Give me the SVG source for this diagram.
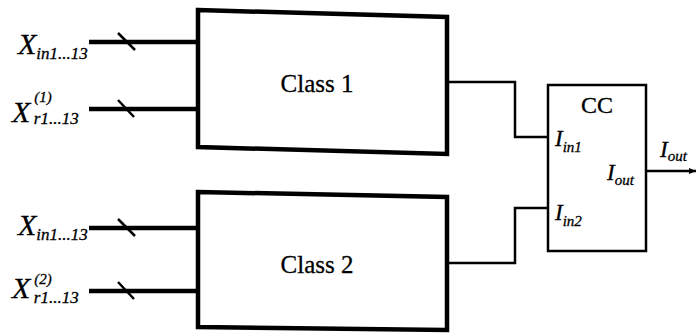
<svg xmlns="http://www.w3.org/2000/svg" width="697" height="336" viewBox="0 0 697 336">
<style>
.box{fill:#fff;stroke:#000;stroke-width:4.5;stroke-linejoin:miter}
.cc{fill:#fff;stroke:#000;stroke-width:2.5}
.in{stroke:#000;stroke-width:4.5;fill:none}
.tick{stroke:#000;stroke-width:2.5}
.wire{stroke:#000;stroke-width:2.5;fill:none}
.t{font-family:"Liberation Serif","Times New Roman",serif;fill:#000;stroke:#000;stroke-width:0.3}
.it{font-family:"Liberation Serif","Times New Roman",serif;font-style:italic;fill:#000;stroke:#000;stroke-width:0.3}
</style>
<defs>
<marker id="arr" markerWidth="8" markerHeight="8" refX="7" refY="4" orient="auto" markerUnits="userSpaceOnUse">
<path d="M0,1 L7,4 L0,7 Z" fill="#000"/>
</marker>
</defs>
<rect width="697" height="336" fill="#fff"/>
<g id="connectors">
<line class="in" x1="89" y1="42" x2="198" y2="42"/>
<line class="tick" x1="118" y1="33" x2="135" y2="50"/>
<line class="in" x1="89" y1="109" x2="198" y2="109"/>
<line class="tick" x1="118" y1="100" x2="134" y2="117"/>
<line class="in" x1="89" y1="228" x2="198" y2="228"/>
<line class="tick" x1="118" y1="219" x2="135" y2="236"/>
<line class="in" x1="89" y1="291" x2="198" y2="291"/>
<line class="tick" x1="118" y1="282" x2="134" y2="299"/>
<polyline class="wire" points="447,82 515,82 515,137 548,137"/>
<polyline class="wire" points="447,263 515,263 515,208 548,208"/>
<line class="wire" x1="646" y1="171" x2="696" y2="171" marker-end="url(#arr)"/>
</g>
<g id="class1">
<polygon class="box" points="198,10 447,17 447,154 198,147"/>
<text class="t" x="317" y="92" font-size="25" text-anchor="middle">Class 1</text>
</g>
<g id="class2">
<polygon class="box" points="198,192 447,197 447,330 198,327"/>
<text class="t" x="317" y="273" font-size="25" text-anchor="middle">Class 2</text>
</g>
<g id="cc">
<rect class="cc" x="548" y="85" width="98" height="166"/>
<text class="t" x="597" y="113" font-size="24" text-anchor="middle">CC</text>
<text class="it" x="555" y="146" font-size="23">I<tspan font-size="15" dy="6">in1</tspan></text>
<text class="it" x="555" y="220" font-size="23">I<tspan font-size="15" dy="6">in2</tspan></text>
<text class="it" x="607" y="180" font-size="23">I<tspan font-size="15" dy="5">out</tspan></text>
</g>
<g id="labels">
<text class="it" x="18" y="54" font-size="30">X<tspan font-size="17" dx="0" dy="5">in1...13</tspan></text>
<text class="it" x="12" y="122" font-size="30">X<tspan font-size="15" dx="4" dy="-20">(1)</tspan><tspan font-size="17" dx="-18" dy="22">r1...13</tspan></text>
<text class="it" x="18" y="235" font-size="30">X<tspan font-size="17" dx="0" dy="5">in1...13</tspan></text>
<text class="it" x="12" y="298" font-size="30">X<tspan font-size="15" dx="4" dy="-14">(2)</tspan><tspan font-size="17" dx="-18" dy="19">r1...13</tspan></text>
<text class="it" x="660" y="157" font-size="23">I<tspan font-size="15" dy="4">out</tspan></text>
</g>
</svg>
